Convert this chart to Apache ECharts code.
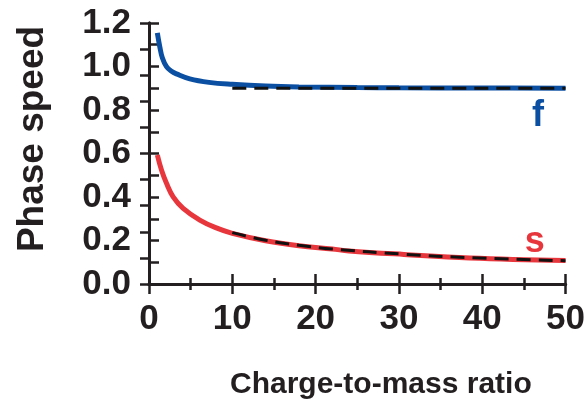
<!DOCTYPE html>
<html>
<head>
<meta charset="utf-8">
<script src="https://cdn.jsdelivr.net/npm/echarts@6/dist/echarts.min.js"></script>
<style>html,body{margin:0;padding:0;background:#fff;}#c{width:588px;height:404px;}</style>
</head>
<body>
<div id="c"></div>
<script>
// Data
var fastX = [1.0, 1.3, 1.6, 2.1, 2.7, 3.3, 4.9, 7.2, 10, 14, 18, 25, 30, 40, 50];
var fastY = [1.155, 1.09, 1.04, 0.999, 0.978, 0.966, 0.943, 0.927, 0.918, 0.910, 0.906, 0.903, 0.902, 0.901, 0.900];
var slowX = [1.0, 1.5, 2.1, 2.9, 4.1, 6.1, 8.0, 10, 14, 18, 22, 24, 30.6, 38.5, 50];
var slowY = [0.593, 0.524, 0.463, 0.401, 0.348, 0.294, 0.259, 0.233, 0.199, 0.176, 0.161, 0.152, 0.136, 0.120, 0.108];
var fastLimitX = [10, 50];
var fastLimitY = [0.9, 0.9];
var slowLimitX = [10, 14, 18, 22, 30.6, 38.5, 50];
var slowLimitY = [0.236, 0.201, 0.178, 0.161, 0.137, 0.121, 0.107];
var xTicks = [0, 10, 20, 30, 40, 50];
var yTicks = [0.0, 0.2, 0.4, 0.6, 0.8, 1.0, 1.2];
var curveLabels = ['f', 's'];
var xTitle = 'Charge-to-mass ratio';
var yTitle = 'Phase speed';

function pairs(xs, ys) { return xs.map(function (x, i) { return [x, ys[i]]; }); }

var FONT = '"Liberation Sans", Arial, Helvetica, sans-serif';
var AX = '#231f20';
var BLUE = '#0b4fa2';
var RED = '#e8363d';

var chart = echarts.init(document.getElementById('c'), null, {renderer: 'canvas'});
chart.setOption({
  animation: false,
  backgroundColor: '#ffffff',
  grid: {left: 149, right: 18, top: 23, bottom: 120, containLabel: false},
  xAxis: [{
    type: 'value', min: xTicks[0], max: xTicks[xTicks.length - 1], interval: 10,
    position: 'bottom',
    axisLine: {show: true, lineStyle: {color: AX, width: 3}},
    axisTick: {show: true, inside: true, length: 10, lineStyle: {color: AX, width: 2.5}},
    minorTick: {show: true, splitNumber: 2, length: 6, lineStyle: {color: AX, width: 2.5}},
    splitLine: {show: false},
    axisLabel: {show: true, margin: 18, color: AX, fontSize: 35, fontWeight: 'bold', fontFamily: FONT,
      formatter: function (v) { return String(v); }}
  }, {
    type: 'value', min: xTicks[0], max: xTicks[xTicks.length - 1], interval: 10,
    position: 'top',
    axisLine: {show: true, lineStyle: {color: AX, width: 3}},
    axisTick: {show: true, inside: true, length: 10, lineStyle: {color: AX, width: 2.5}},
    minorTick: {show: true, splitNumber: 2, length: 6, lineStyle: {color: AX, width: 2.5}},
    splitLine: {show: false},
    axisLabel: {show: false}
  }],
  yAxis: [{
    type: 'value', min: yTicks[0], max: yTicks[yTicks.length - 1], interval: 0.2,
    position: 'left',
    axisLine: {show: true, lineStyle: {color: AX, width: 3}},
    axisTick: {show: true, inside: true, length: 10, lineStyle: {color: AX, width: 2.5}},
    minorTick: {show: true, splitNumber: 2, length: 10, lineStyle: {color: AX, width: 2.5}},
    splitLine: {show: false},
    axisLabel: {show: true, margin: 18, color: AX, fontSize: 35, fontWeight: 'bold', fontFamily: FONT,
      formatter: function (v) { return v.toFixed(1); }}
  }, {
    type: 'value', min: 0, max: 10, interval: 1,
    position: 'right',
    axisLine: {show: true, lineStyle: {color: AX, width: 3}},
    axisTick: {show: true, inside: true, length: 9, lineStyle: {color: AX, width: 2.5}},
    splitLine: {show: false},
    axisLabel: {show: false}
  }],
  graphic: [
    {type: 'text', left: 230, top: 370, style: {text: xTitle, fill: AX, font: 'bold 30px ' + FONT}},
    {type: 'text', x: 14, y: 139, rotation: Math.PI / 2, originX: 0, originY: 0,
      style: {text: yTitle, fill: AX, font: 'bold 37px ' + FONT, align: 'center', verticalAlign: 'top'}}
  ],
  series: [
    {type: 'line', xAxisIndex: 0, yAxisIndex: 0, data: pairs(fastX, fastY), smooth: 0.4, showSymbol: false,
      lineStyle: {color: BLUE, width: 5}, z: 2,
      markPoint: {symbol: 'circle', symbolSize: 0, data: [{coord: [46.7, 0.77], value: curveLabels[0]}],
        label: {show: true, position: 'inside', formatter: curveLabels[0], color: BLUE, fontSize: 36, fontWeight: 'bold', fontFamily: FONT}}},
    {type: 'line', xAxisIndex: 0, yAxisIndex: 0, data: pairs(slowX, slowY), smooth: 0.4, showSymbol: false,
      lineStyle: {color: RED, width: 5}, z: 2,
      markPoint: {symbol: 'circle', symbolSize: 0, data: [{coord: [46.3, 0.195], value: curveLabels[1]}],
        label: {show: true, position: 'inside', formatter: curveLabels[1], color: RED, fontSize: 36, fontWeight: 'bold', fontFamily: FONT}}},
    {type: 'line', xAxisIndex: 0, yAxisIndex: 0, data: pairs(fastLimitX, fastLimitY), showSymbol: false,
      lineStyle: {color: '#111', width: 3, type: [14, 8]}, z: 3},
    {type: 'line', xAxisIndex: 0, yAxisIndex: 0, data: pairs(slowLimitX, slowLimitY), smooth: 0.4, showSymbol: false,
      lineStyle: {color: '#111', width: 3, type: [14, 8]}, z: 3}
  ]
});
</script>
</body>
</html>
